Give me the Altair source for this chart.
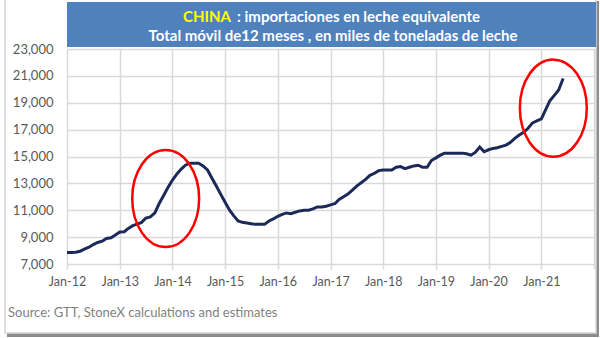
import altair as alt
import pandas as pd

# Monthly 12-month rolling total, thousand tonnes milk equivalent (Jan-12 .. Jun-21)
months = pd.date_range("2012-01-01", "2021-06-01", freq="MS").strftime("%Y-%m-%d").tolist()
values = [
    # 2012
    7850, 7850, 7870, 7950, 8100, 8250, 8450, 8600, 8700, 8900, 8950, 9150,
    # 2013
    9380, 9400, 9650, 9850, 9970, 10100, 10420, 10500, 10800, 11500, 12100, 12700,
    # 2014
    13250, 13700, 14050, 14350, 14500, 14500, 14500, 14300, 14000, 13400, 12800, 12200,
    # 2015
    11600, 11000, 10600, 10200, 10100, 10050, 10000, 9950, 9950, 9950, 10200, 10350,
    # 2016
    10550, 10700, 10800, 10750, 10850, 10950, 11000, 11000, 11100, 11250, 11250, 11300,
    # 2017
    11400, 11500, 11800, 12000, 12200, 12500, 12800, 13050, 13300, 13600, 13750, 13950,
    # 2018
    14000, 14000, 14000, 14200, 14250, 14100, 14200, 14300, 14350, 14200, 14200, 14700,
    # 2019
    14900, 15100, 15250, 15250, 15250, 15250, 15250, 15200, 15100, 15300, 15700, 15350,
    # 2020
    15500, 15600, 15650, 15750, 15850, 16050, 16350, 16600, 16800, 17100, 17500, 17650,
    # 2021
    17800, 18500, 19150, 19550, 19950, 20800,
]

# Annotation circles (centre date, centre value)
circle_dates = ["2013-11-15", "2021-03-25"]
circle_values = [11870, 18600]

title_china = "CHINA"
title_rest = ": importaciones en leche equivalente"
title_line2 = "Total móvil de12 meses , en miles de toneladas de leche"
source_text = "Source: GTT, StoneX calculations and estimates"

y_ticks = list(range(7000, 23001, 2000))
x_tick_years = list(range(2012, 2023))

df = pd.DataFrame({"date": months, "value": values})
circles = pd.DataFrame({"date": circle_dates, "value": circle_values})

W, H = 527, 215
FONT = "Lato"

x_scale = alt.Scale(type="utc",
                    domain=[alt.DateTime(year=2012, month=1, date=1, utc=True),
                            alt.DateTime(year=2022, month=1, date=1, utc=True)])
y_scale = alt.Scale(domain=[7000, 23000], nice=False, zero=False)

x_axis = alt.Axis(
    values=[alt.DateTime(year=yr, month=1, date=1, utc=True) for yr in x_tick_years],
    labelExpr="year(datum.value) >= 2022 ? '' : utcFormat(datum.value, '%b-%y')",
    title=None, grid=True, gridColor="#d9d9d9", gridWidth=1.5,
    domain=False, tickColor="#d9d9d9", tickWidth=1.5, tickSize=5,
    labelPadding=6, labelFont=FONT, labelFontSize=12.5, labelColor="#595959",
    labelOverlap=False, labelFlush=False,
)
y_axis = alt.Axis(
    values=y_ticks, format=",d", title=None, grid=True, gridColor="#d9d9d9",
    gridWidth=1.5, domain=False, ticks=False, labelPadding=14,
    labelFont=FONT, labelFontSize=13, labelColor="#595959",
    labelOverlap=False, labelFlush=False,
)

line = alt.Chart(df).mark_line(color="#1c2a5a", strokeWidth=3).encode(
    x=alt.X("date:T", scale=x_scale, axis=x_axis),
    y=alt.Y("value:Q", scale=y_scale, axis=y_axis),
)

ellipse_path = "M 0,-1 A 0.69,1 0 1,1 0,1 A 0.69,1 0 1,1 0,-1 Z"
rings = alt.Chart(circles).mark_point(
    shape=ellipse_path, size=9409, filled=False, color="#ff0000",
    strokeWidth=2.5, opacity=1,
).encode(
    x=alt.X("date:T", scale=x_scale, axis=x_axis),
    y=alt.Y("value:Q", scale=y_scale, axis=y_axis),
)

anno = pd.DataFrame({"k": [0]})
frame = alt.Chart(anno).mark_rect(fill="white", fillOpacity=0, stroke="#d6d6d6", strokeWidth=1.5).encode(
    x=alt.value(-62), x2=alt.value(529), y=alt.value(-50), y2=alt.value(284)
)
shadow_b = alt.Chart(anno).mark_rect(fill="#8c8c8c").encode(
    x=alt.value(-60), x2=alt.value(532), y=alt.value(284), y2=alt.value(288)
)
shadow_r = alt.Chart(anno).mark_rect(fill="#8c8c8c").encode(
    x=alt.value(529), x2=alt.value(532), y=alt.value(-48), y2=alt.value(288)
)
box = alt.Chart(anno).mark_rect(fill="#4f81bd").encode(
    x=alt.value(0), x2=alt.value(529), y=alt.value(-47), y2=alt.value(-2)
)
t_china = alt.Chart(anno).mark_text(
    text=title_china, color="#ffff00", font=FONT, fontSize=15, fontWeight="bold",
    align="right", baseline="middle",
).encode(x=alt.value(164), y=alt.value(-32))
t_rest = alt.Chart(anno).mark_text(
    text=title_rest, color="white", font=FONT, fontSize=15, fontWeight="bold",
    align="left", baseline="middle",
).encode(x=alt.value(170), y=alt.value(-32))
t_line2 = alt.Chart(anno).mark_text(
    text=title_line2, color="white", font=FONT, fontSize=15, fontWeight="bold",
    align="center", baseline="middle",
).encode(x=alt.value(266), y=alt.value(-13))
t_source = alt.Chart(anno).mark_text(
    text=source_text, color="#7f7f7f", font=FONT, fontSize=13,
    align="left", baseline="middle",
).encode(x=alt.value(-59), y=alt.value(264))

chart = alt.layer(
    shadow_b, shadow_r, frame, line, rings, box, t_china, t_rest, t_line2, t_source
).properties(
    width=W, height=H,
    autosize=alt.AutoSizeParams(type="none"),
    padding={"left": 67, "top": 49, "right": 6, "bottom": 74},
).configure_view(stroke=None).configure(background="white")

chart.save("out.html", embed_options={"renderer": "svg", "actions": False})
